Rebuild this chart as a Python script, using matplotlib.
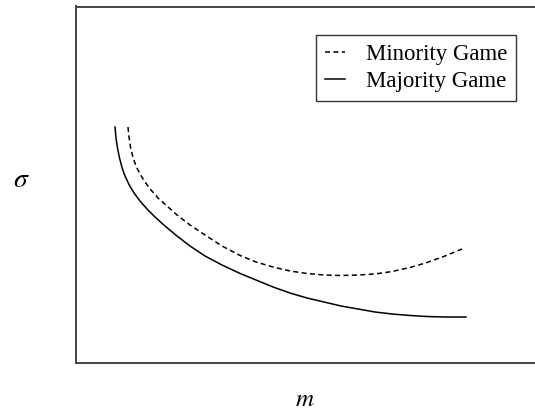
"""
Minority vs Majority game - sigma against memory m (schematic curves)
"""
import matplotlib
matplotlib.use('Agg')
import matplotlib.pyplot as plt

# Curves (arbitrary units, no ticks on the original)
majority_m = [3.95, 4.05, 4.2, 4.4, 4.65, 4.95, 5.35, 5.85, 6.45, 7.15, 7.95, 8.95, 10.15, 11.45,
              12.95, 14.65, 16.35, 18.05, 19.75, 21.45, 23.15, 24.85, 26.55, 28.25, 29.95, 31.65,
              33.45, 35.15, 36.85, 39.05]
majority_sigma = [23.6, 22.5, 21.5, 20.5, 19.55, 18.7, 17.85, 17.0, 16.2, 15.4, 14.6, 13.7, 12.7, 11.7,
                  10.7, 9.8, 9.0, 8.3, 7.6, 7.0, 6.5, 6.1, 5.7, 5.4, 5.1, 4.9,
                  4.75, 4.65, 4.6, 4.6]

minority_m = [5.25, 5.35, 5.5, 5.75, 6.05, 6.45, 6.95, 7.55, 8.25, 9.15, 10.15, 11.45, 12.95, 14.65,
              16.35, 18.05, 19.75, 21.45, 23.15, 24.85, 26.55, 28.25, 29.95, 31.65, 33.45, 35.15,
              36.95, 38.65]
minority_sigma = [23.6, 22.6, 21.6, 20.55, 19.7, 18.9, 18.1, 17.3, 16.5, 15.7, 14.8, 13.8, 12.8, 11.7,
                  10.8, 10.1, 9.6, 9.2, 8.95, 8.8, 8.75, 8.8, 8.9, 9.15, 9.55, 10.05,
                  10.7, 11.4]

labels = ['Minority Game', 'Majority Game']

plt.rcParams['font.family'] = ['Liberation Serif', 'DejaVu Serif']
plt.rcParams['mathtext.fontset'] = 'stix'

fig = plt.figure(figsize=(5.35, 4.12), dpi=100)
fig.patch.set_facecolor('white')
# axes run off the right edge of the picture, like the cropped original
ax = fig.add_axes([75.5 / 535, 49 / 412, 469.5 / 535, 356.5 / 412])

ax.plot(minority_m, minority_sigma, color='black', linestyle=(0, (3.3, 2.2)), linewidth=1.1, label=labels[0])
ax.plot(majority_m, majority_sigma, color='black', linestyle='-', linewidth=1.1, label=labels[1])

ax.set_xlim(0, 46.95)
ax.set_ylim(0, 35.65)
ax.set_xticks([])
ax.set_yticks([])
for side in ['left', 'bottom', 'top', 'right']:
    ax.spines[side].set_color('#444444')
    ax.spines[side].set_linewidth(1.4)

ax.set_ylabel(r'$\sigma$', fontsize=20, rotation=0, va='center', ha='center')
ax.yaxis.set_label_coords(-0.116, 0.513)
ax.set_xlabel(r'$m$', fontsize=18, va='center', ha='center')
ax.xaxis.set_label_coords(0.489, -0.103)

leg = ax.legend(loc='upper left', bbox_to_anchor=(316 / 535, 1 - 35 / 412),
                bbox_transform=fig.transFigure, borderaxespad=0,
                fontsize=16.5, handlelength=0.9, handletextpad=0.9,
                borderpad=0.38, labelspacing=0.28, fancybox=False, framealpha=1)
leg.get_frame().set_edgecolor('#333333')
leg.get_frame().set_linewidth(1.0)

fig.savefig('out.png', dpi=100, facecolor='white')
plt.close(fig)
